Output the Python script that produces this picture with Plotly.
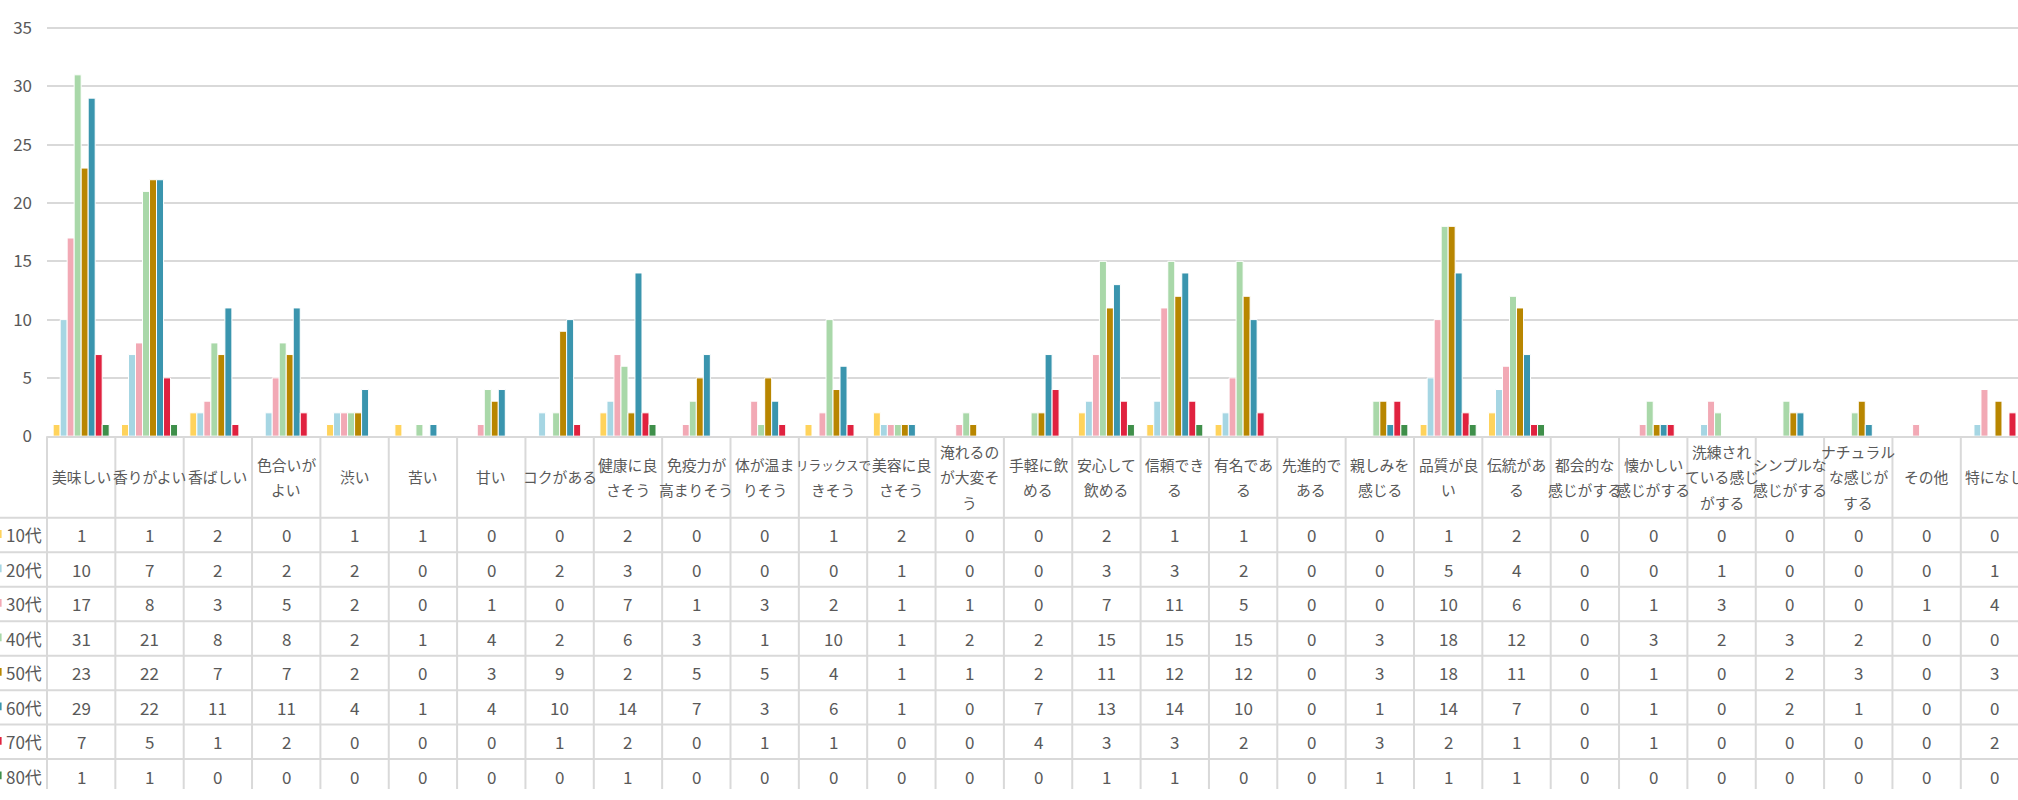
import plotly.graph_objects as go

# ---------------- data ----------------
categories = [
    "美味しい", "香りがよい", "香ばしい", "色合いがよい", "渋い", "苦い", "甘い", "コクがある",
    "健康に良さそう", "免疫力が高まりそう", "体が温まりそう", "リラックスできそう", "美容に良さそう",
    "淹れるのが大変そう", "手軽に飲める", "安心して飲める", "信頼できる", "有名である", "先進的である",
    "親しみを感じる", "品質が良い", "伝統がある", "都会的な感じがする", "懐かしい感じがする",
    "洗練されている感じがする", "シンプルな感じがする", "ナチュラルな感じがする", "その他", "特になし",
]
# how each header cell wraps in the data table
category_lines = [
    ["美味しい"], ["香りがよい"], ["香ばしい"], ["色合いが", "よい"], ["渋い"], ["苦い"], ["甘い"],
    ["コクがある"], ["健康に良", "さそう"], ["免疫力が", "高まりそう"], ["体が温ま", "りそう"],
    ["リラックスで", "きそう"], ["美容に良", "さそう"], ["淹れるの", "が大変そ", "う"], ["手軽に飲", "める"],
    ["安心して", "飲める"], ["信頼でき", "る"], ["有名であ", "る"], ["先進的で", "ある"], ["親しみを", "感じる"],
    ["品質が良", "い"], ["伝統があ", "る"], ["都会的な", "感じがする"], ["懐かしい", "感じがする"],
    ["洗練され", "ている感じ", "がする"], ["シンプルな", "感じがする"], ["ナチュラル", "な感じが", "する"],
    ["その他"], ["特になし"],
]

series_names = ["10代", "20代", "30代", "40代", "50代", "60代", "70代", "80代"]

v10 = [1, 1, 2, 0, 1, 1, 0, 0, 2, 0, 0, 1, 2, 0, 0, 2, 1, 1, 0, 0, 1, 2, 0, 0, 0, 0, 0, 0, 0]
v20 = [10, 7, 2, 2, 2, 0, 0, 2, 3, 0, 0, 0, 1, 0, 0, 3, 3, 2, 0, 0, 5, 4, 0, 0, 1, 0, 0, 0, 1]
v30 = [17, 8, 3, 5, 2, 0, 1, 0, 7, 1, 3, 2, 1, 1, 0, 7, 11, 5, 0, 0, 10, 6, 0, 1, 3, 0, 0, 1, 4]
v40 = [31, 21, 8, 8, 2, 1, 4, 2, 6, 3, 1, 10, 1, 2, 2, 15, 15, 15, 0, 3, 18, 12, 0, 3, 2, 3, 2, 0, 0]
v50 = [23, 22, 7, 7, 2, 0, 3, 9, 2, 5, 5, 4, 1, 1, 2, 11, 12, 12, 0, 3, 18, 11, 0, 1, 0, 2, 3, 0, 3]
v60 = [29, 22, 11, 11, 4, 1, 4, 10, 14, 7, 3, 6, 1, 0, 7, 13, 14, 10, 0, 1, 14, 7, 0, 1, 0, 2, 1, 0, 0]
v70 = [7, 5, 1, 2, 0, 0, 0, 1, 2, 0, 1, 1, 0, 0, 4, 3, 3, 2, 0, 3, 2, 1, 0, 1, 0, 0, 0, 0, 2]
v80 = [1, 1, 0, 0, 0, 0, 0, 0, 1, 0, 0, 0, 0, 0, 0, 1, 1, 0, 0, 1, 1, 1, 0, 0, 0, 0, 0, 0, 0]
series_values = [v10, v20, v30, v40, v50, v60, v70, v80]

colors = ["#FFD35C", "#A6D6E3", "#F2A9B5", "#A9D8A9", "#B88600", "#3A95AE", "#E0223F", "#3F8F4A"]

y_ticks = [0, 5, 10, 15, 20, 25, 30, 35]
y_max = 35

# ---------------- layout geometry (pixels) ----------------
W, H = 2018, 800
PLOT_LEFT = 47.0
COL_W = 68.35
Y_TOP = 16.7        # pixel of value 35
Y_ZERO = 436.7      # pixel of value 0
HEADER_BOTTOM = 520.7
ROW_H = 35.5
LINE_GAP = 26.6
GRID = "#D9D9D9"
TEXT = "#595959"
FONT = "Noto Sans CJK JP, Meiryo, sans-serif"
HEADER_SIZE = 14.8


def px_x(p):
    return p / W


def px_y(p):
    return 1 - p / H


fig = go.Figure()
for name, vals, col in zip(series_names, series_values, colors):
    fig.add_trace(go.Bar(
        x=categories, y=vals, name=name,
        marker=dict(color=col, line=dict(color="white", width=1)),
        showlegend=False,
    ))

x_range_end = -0.5 + (W - PLOT_LEFT) / COL_W
# small headroom so the top gridline (35) is not dropped at the axis edge
y_range_top = y_max + 0.2
px_per_unit = (Y_ZERO - Y_TOP) / y_max
domain_top_px = Y_ZERO - y_range_top * px_per_unit

shapes = []
annotations = []

# vertical table lines
for k in range(len(categories) + 1):
    xp = PLOT_LEFT + k * COL_W
    if xp > W + 2:
        break
    shapes.append(dict(type="line", xref="paper", yref="paper",
                       x0=px_x(xp), x1=px_x(xp), y0=px_y(Y_ZERO), y1=0,
                       line=dict(color=GRID, width=2), layer="below"))
# horizontal table lines
for r in range(len(series_names)):
    yp = HEADER_BOTTOM + r * ROW_H
    shapes.append(dict(type="line", xref="paper", yref="paper",
                       x0=0, x1=1, y0=px_y(yp), y1=px_y(yp),
                       line=dict(color=GRID, width=2), layer="below"))

# header text
header_center = (Y_ZERO + HEADER_BOTTOM) / 2
for cat, lines in zip(categories, category_lines):
    n = len(lines)
    for i, ln in enumerate(lines):
        yp = header_center + (i - (n - 1) / 2) * LINE_GAP
        size = HEADER_SIZE if len(ln) <= 5 else 12.6
        annotations.append(dict(x=cat, xref="x", y=px_y(yp), yref="paper",
                                text=ln, showarrow=False, xanchor="center", yanchor="middle",
                                font=dict(family=FONT, size=size, color=TEXT)))

# row labels, legend keys and cell values
for r, (name, vals, col) in enumerate(zip(series_names, series_values, colors)):
    yc = HEADER_BOTTOM + r * ROW_H + ROW_H / 2
    annotations.append(dict(x=px_x(4), xref="paper", y=px_y(yc), yref="paper",
                            text=name, showarrow=False, xanchor="left", yanchor="middle",
                            font=dict(family=FONT, size=17, color=TEXT)))
    shapes.append(dict(type="rect", xref="paper", yref="paper",
                       x0=0, x1=px_x(1.6), y0=px_y(yc - 5), y1=px_y(yc + 3),
                       fillcolor=col, line=dict(width=0)))
    for cat, v in zip(categories, vals):
        annotations.append(dict(x=cat, xref="x", y=px_y(yc), yref="paper",
                                text=str(v), showarrow=False, xanchor="center", yanchor="middle",
                                font=dict(family=FONT, size=17, color=TEXT)))

fig.update_layout(
    width=W, height=H,
    margin=dict(l=0, r=0, t=0, b=0),
    paper_bgcolor="white", plot_bgcolor="white",
    barmode="group", bargap=0.18, bargroupgap=0,
    font=dict(family=FONT, color=TEXT, size=17),
    hovermode=False,
    xaxis=dict(domain=[px_x(PLOT_LEFT), 1], range=[-0.5, x_range_end],
               showticklabels=False, showgrid=False, zeroline=False,
               showline=True, linecolor=GRID, linewidth=2, ticks=""),
    yaxis=dict(domain=[px_y(Y_ZERO), px_y(domain_top_px)], range=[0, y_range_top],
               tickvals=y_ticks, showgrid=True, gridcolor=GRID, gridwidth=2,
               zeroline=False, showline=False, ticks="", ticklabelstandoff=14,
               tickfont=dict(family=FONT, size=17, color=TEXT)),
    shapes=shapes,
    annotations=annotations,
)

fig.write_html(
    "out.html",
    config={"displayModeBar": False},
    post_script="document.body.style.margin='0';document.body.style.padding='0';"
                "document.body.style.overflow='hidden';",
)
